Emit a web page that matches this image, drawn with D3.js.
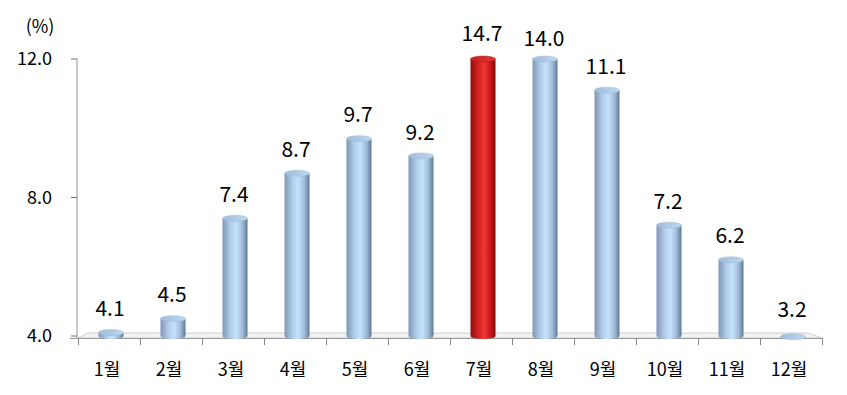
<!DOCTYPE html>
<html>
<head>
<meta charset="utf-8">
<script src="https://cdn.jsdelivr.net/npm/d3@7/dist/d3.min.js"></script>
<style>
  body { margin: 0; background: #fff; }
  svg text { font-family: "Noto Sans CJK KR", "Noto Sans", sans-serif; font-weight: 400; fill: #000; }
</style>
</head>
<body>
<svg id="chart" width="847" height="395"></svg>
<script>
const months = ["1월", "2월", "3월", "4월", "5월", "6월", "7월", "8월", "9월", "10월", "11월", "12월"];
const values = [4.1, 4.5, 7.4, 8.7, 9.7, 9.2, 14.7, 14.0, 11.1, 7.2, 6.2, 3.2];
const highlight = ["7월"];
const yTicks = [4.0, 8.0, 12.0];

const svg = d3.select("#chart");
const margin = { left: 78, right: 25, top: 59, bottom: 57 };
const width = 847, height = 395;

const x = d3.scaleBand().domain(months)
  .range([margin.left, width - margin.right]).paddingInner(0).paddingOuter(0);
const y = d3.scaleLinear().domain([4, 12]).range([336, margin.top]);

const defs = svg.append("defs");
function grad(id, stops) {
  const g = defs.append("linearGradient").attr("id", id)
    .attr("x1", "0%").attr("x2", "100%").attr("y1", "0%").attr("y2", "0%");
  stops.forEach(s => g.append("stop").attr("offset", s[0]).attr("stop-color", s[1]));
}
grad("blueBar", [["0%", "#7d96b3"], ["30%", "#aecbe9"], ["55%", "#c4e2fc"], ["80%", "#9fbbd8"], ["100%", "#5f7894"]]);
grad("redBar", [["0%", "#8e0b0b"], ["30%", "#d42222"], ["55%", "#ee3535"], ["80%", "#c81818"], ["100%", "#850808"]]);
grad("blueCap", [["0%", "#9fbcd9"], ["100%", "#bcd8f2"]]);
grad("redCap", [["0%", "#c42222"], ["100%", "#e43434"]]);

// floor (3D base)
const x0 = margin.left, x1 = width - margin.right;
svg.append("path")
  .attr("d", `M${x0},338 L${x1},338 L${x1 - 14},333 L${x0 + 10},333 Z`)
  .attr("fill", "#f3f3f3").attr("stroke", "#cfcfcf").attr("stroke-width", 1);

// y axis wall line
svg.append("line")
  .attr("x1", x0 - 1).attr("x2", x0 - 1).attr("y1", y(12)).attr("y2", 338)
  .attr("stroke", "#c8c8c8").attr("stroke-width", 2);

// y ticks and labels
const yAxis = svg.append("g");
yTicks.forEach(t => {
  yAxis.append("line")
    .attr("x1", x0 - 7).attr("x2", x0 - 1)
    .attr("y1", y(t)).attr("y2", y(t))
    .attr("stroke", "#707070").attr("stroke-width", 1);
  yAxis.append("text")
    .attr("x", 52).attr("y", y(t)).attr("dy", "0.36em")
    .attr("text-anchor", "end").attr("font-size", 18)
    .text(t.toFixed(1));
});
svg.append("text").attr("x", 40).attr("y", 27).attr("dy", "0.36em")
  .attr("text-anchor", "middle").attr("font-size", 18).text("(%)");

// x axis line and category ticks
svg.append("line")
  .attr("x1", x0 - 8).attr("x2", x1).attr("y1", 338.5).attr("y2", 338.5)
  .attr("stroke", "#9a9a9a").attr("stroke-width", 1);
const bounds = months.map(m => x(m)).concat([x1]);
svg.selectAll(".xt").data(bounds).enter().append("line")
  .attr("class", "xt")
  .attr("x1", d => Math.round(d) + 0.5).attr("x2", d => Math.round(d) + 0.5)
  .attr("y1", 338).attr("y2", 345)
  .attr("stroke", "#8a8a8a").attr("stroke-width", 1);

svg.selectAll(".xl").data(months).enter().append("text")
  .attr("class", "xl")
  .attr("x", d => x(d) + x.bandwidth() / 2 - 2)
  .attr("y", 370).attr("dy", "0.36em")
  .attr("text-anchor", "middle").attr("font-size", 18)
  .text(d => d);

// cylinder bars
const bw = 25, ry = 3;
const bars = svg.selectAll(".bar").data(months.map((m, i) => ({ m, v: values[i] })))
  .enter().append("g").attr("class", "bar");

bars.each(function (d) {
  const g = d3.select(this);
  const isRed = highlight.includes(d.m);
  const cx = x(d.m) + x.bandwidth() / 2 + 2;
  const top = y(Math.max(Math.min(d.v, 12), 4 - 0.02));
  const bottom = 336;
  const left = cx - bw / 2;
  g.append("path")
    .attr("d", `M${left},${top} L${left},${bottom} A${bw / 2},${ry} 0 0 0 ${left + bw},${bottom} L${left + bw},${top} Z`)
    .attr("fill", isRed ? "url(#redBar)" : "url(#blueBar)");
  g.append("ellipse")
    .attr("cx", cx).attr("cy", top).attr("rx", bw / 2).attr("ry", ry)
    .attr("fill", isRed ? "url(#redCap)" : "url(#blueCap)")
    .attr("stroke", isRed ? "#b01818" : "#9db9d6").attr("stroke-width", 0.5);
  g.append("text")
    .attr("x", cx - 1)
    .attr("y", (d.v > 12 ? y(12) - 21 - (d.v - 14) * 7 : Math.min(top, 333) - 24))
    .attr("dy", "0.36em")
    .attr("text-anchor", "middle").attr("font-size", 21)
    .text(d.v.toFixed(1));
});
</script>
</body>
</html>
